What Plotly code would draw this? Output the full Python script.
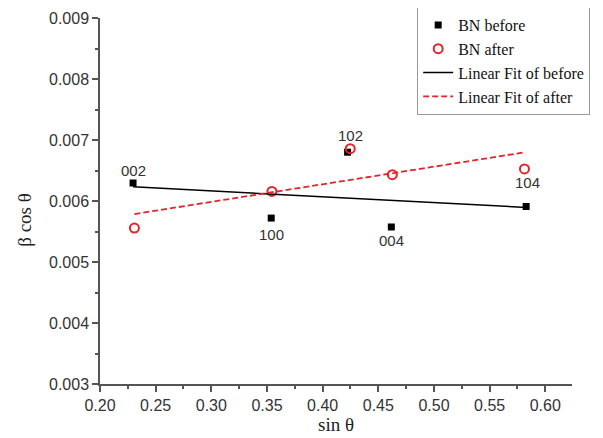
import numpy as np
import plotly.graph_objects as go

# Data
sin_before = [0.2297, 0.3538, 0.4224, 0.4617, 0.5828]
bcos_before = [0.006295, 0.005720, 0.006800, 0.005574, 0.005910]
sin_after = [0.2309, 0.3544, 0.4248, 0.4626, 0.5813]
bcos_after = [0.005557, 0.006157, 0.006857, 0.006431, 0.006525]
peak_labels = ["002", "100", "102", "004", "104"]

x_ticks = [0.20, 0.25, 0.30, 0.35, 0.40, 0.45, 0.50, 0.55, 0.60]
y_ticks = [0.003, 0.004, 0.005, 0.006, 0.007, 0.008, 0.009]

# Linear fits
kb, bb = np.polyfit(sin_before, bcos_before, 1)
ka, ba = np.polyfit(sin_after, bcos_after, 1)
xb = np.array([min(sin_before), max(sin_before)])
xa = np.array([min(sin_after), max(sin_after)])

fig = go.Figure()
fig.add_trace(go.Scatter(x=sin_before, y=bcos_before, mode="markers", name="BN before",
                         marker=dict(symbol="square", size=7, color="black")))
fig.add_trace(go.Scatter(x=sin_after, y=bcos_after, mode="markers", name="BN after",
                         marker=dict(symbol="circle-open", size=9, color="#e3242b",
                                     line=dict(width=2, color="#e3242b"))))
fig.add_trace(go.Scatter(x=xb, y=kb * xb + bb, mode="lines", name="Linear Fit of before",
                         line=dict(color="black", width=1.5)))
fig.add_trace(go.Scatter(x=xa, y=ka * xa + ba, mode="lines", name="Linear Fit of after",
                         line=dict(color="#e3242b", width=1.8, dash="6px,3px")))

# peak labels: (source series, vertical shift)
label_specs = [("b", 13), ("b", -16), ("a", 13), ("b", -14), ("a", -14)]
for i, (src, ys) in enumerate(label_specs):
    xs = sin_before if src == "b" else sin_after
    yv = bcos_before if src == "b" else bcos_after
    fig.add_annotation(x=xs[i], y=yv[i], text=peak_labels[i], showarrow=False,
                       yshift=ys, xshift=3 if i == 4 else 0,
                       font=dict(family="Liberation Sans, Arial", size=15, color="#333333"))

fig.add_annotation(x=-0.16, xref="paper", y=0.45, yref="paper", text="β cos θ",
                   textangle=-90, showarrow=False, xanchor="center", yanchor="middle",
                   font=dict(family="Liberation Serif, Times New Roman", size=19, color="#222222"))

axis_common = dict(showline=True, linecolor="#555555", linewidth=1.5, ticks="outside",
                   ticklen=6, tickwidth=1.5, tickcolor="#555555", showgrid=False, zeroline=False,
                   tickfont=dict(family="Liberation Sans, Arial", size=16, color="#333333"))

# page body has an 8px default margin, so the figure is sized to fit inside the window
fig.update_layout(
    width=595, height=430,
    margin=dict(l=92, r=31, t=10, b=54, autoexpand=False),
    plot_bgcolor="white", paper_bgcolor="white",
    showlegend=True,
    legend=dict(x=0.672, y=1.03, xanchor="left", yanchor="top",
                bordercolor="#999999", borderwidth=1, bgcolor="white",
                font=dict(family="Liberation Serif, Times New Roman", size=16, color="#111111"),
                tracegroupgap=0, itemwidth=30),
    xaxis=dict(range=[0.2, 0.624], tickvals=x_ticks, ticktext=[f"{v:.2f}" for v in x_ticks],
               minor=dict(ticks="outside", ticklen=3, tickwidth=1.5, tickcolor="#555555", dtick=0.025,
                          tick0=0.2),
               title=dict(text="sin θ", standoff=4,
                          font=dict(family="Liberation Serif, Times New Roman", size=19, color="#222222")),
               **axis_common),
    yaxis=dict(range=[0.003, 0.009], tickvals=y_ticks, ticktext=[f"{v:.3f}" for v in y_ticks],
               minor=dict(ticks="outside", ticklen=3, tickwidth=1.5, tickcolor="#555555", dtick=0.0005,
                          tick0=0.003),
               **axis_common),
)

fig.write_html("out.html")
